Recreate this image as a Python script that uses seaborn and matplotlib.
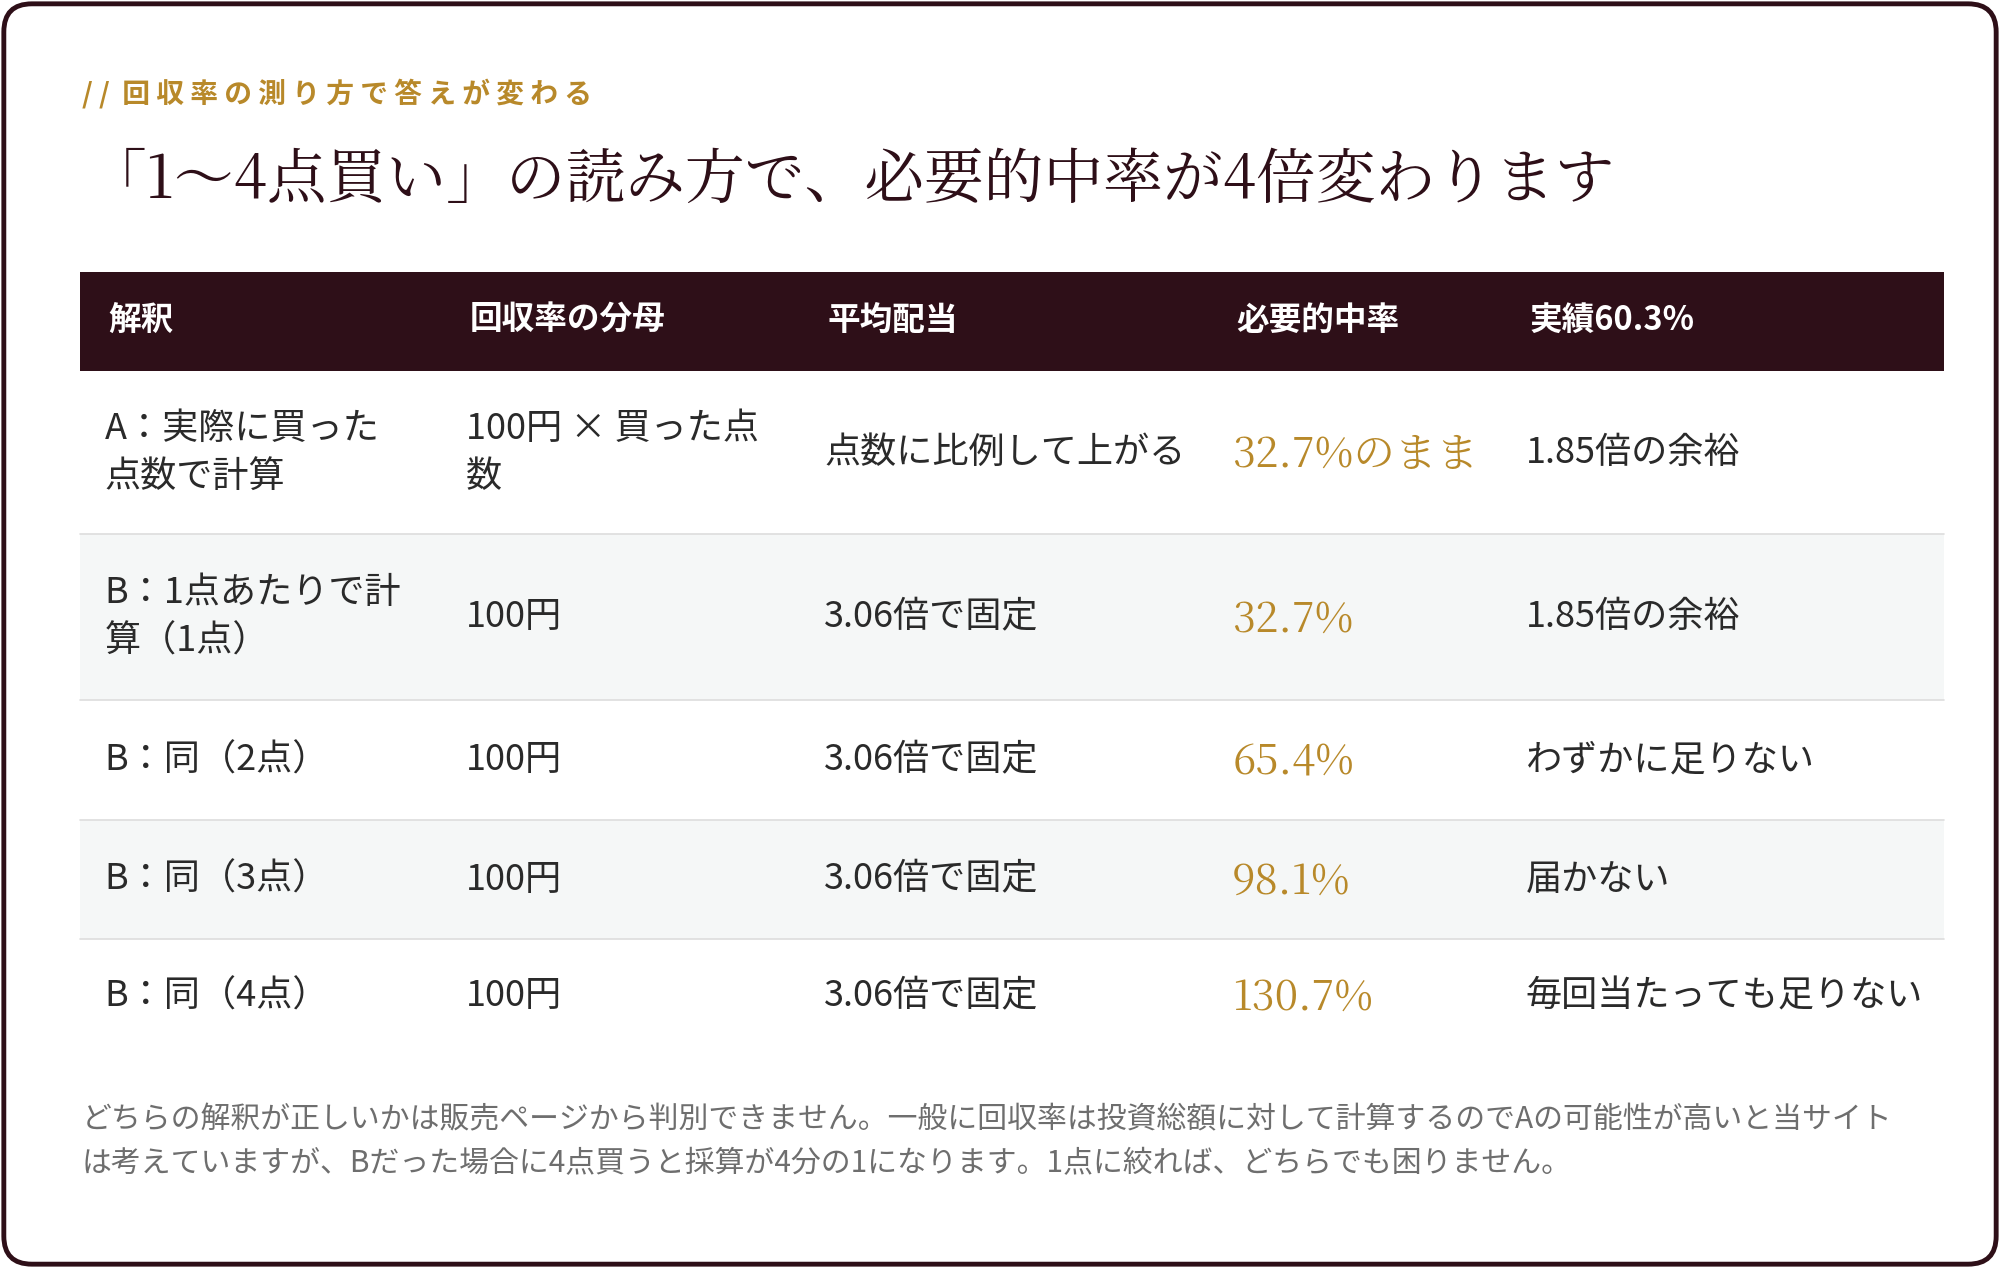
import matplotlib
matplotlib.use("Agg")
import matplotlib.pyplot as plt
from matplotlib.patches import FancyBboxPatch, Rectangle
import seaborn as sns

sns.set_style("white")
plt.rcParams['font.family'] = ['Noto Sans CJK JP', 'DejaVu Sans']

DARK = "#2E0F18"
GOLD = "#B8892A"
TEXT = "#2A2A2A"
GREY = "#6E6E6E"

kicker = "/ /  回 収 率 の 測 り 方 で 答 え が 変 わ る"
title = "「1〜4点買い」の読み方で、必要的中率が4倍変わります"
headers = ["解釈", "回収率の分母", "平均配当", "必要的中率", "実績60.3%"]
col_interp = ["A：実際に買った\n点数で計算", "B：1点あたりで計\n算（1点）", "B：同（2点）", "B：同（3点）", "B：同（4点）"]
col_denom = ["100円 × 買った点\n数", "100円", "100円", "100円", "100円"]
col_payout = ["点数に比例して上がる", "3.06倍で固定", "3.06倍で固定", "3.06倍で固定", "3.06倍で固定"]
col_required = ["32.7%のまま", "32.7%", "65.4%", "98.1%", "130.7%"]
col_actual = ["1.85倍の余裕", "1.85倍の余裕", "わずかに足りない", "届かない", "毎回当たっても足りない"]
footnote = ("どちらの解釈が正しいかは販売ページから判別できません。一般に回収率は投資総額に対して計算するのでAの可能性が高いと当サイト\n"
            "は考えていますが、Bだった場合に4点買うと採算が4分の1になります。1点に絞れば、どちらでも困りません。")

col_x = [82, 365, 646, 966, 1196]
row_edges = [291, 419, 549, 643, 736, 826]

fig = plt.figure(figsize=(20, 12.68), dpi=100)
ax = fig.add_axes([0, 0, 1, 1])
ax.set_xlim(0, 1568)
ax.set_ylim(994, 0)
ax.axis("off")

ax.add_patch(FancyBboxPatch((3, 3), 1562, 988, boxstyle="round,pad=0,rounding_size=22",
                            fc="white", ec=DARK, lw=3.5))

ax.text(64, 73, kicker, color=GOLD, fontsize=20, fontweight="bold", va="center")
ax.text(68, 142, title, color=DARK, fontsize=43, va="center",
        family=['Noto Serif CJK JP', 'Noto Sans CJK JP', 'DejaVu Sans'])

ax.add_patch(Rectangle((63, 213), 1461, 78, fc=DARK, ec="none"))
for x, h in zip(col_x, headers):
    ax.text(x + 3, 251, h, color="white", fontsize=23.5, fontweight="bold", va="center")

for i in range(len(col_interp)):
    top, bot = row_edges[i], row_edges[i + 1]
    if i % 2 == 1:
        ax.add_patch(Rectangle((63, top), 1461, bot - top, fc="#F5F7F7", ec="none"))
    if i > 0:
        ax.plot([63, 1524], [top, top], color="#DDDDDD", lw=1.2)
    yc = (top + bot) / 2
    vals = [col_interp[i], col_denom[i], col_payout[i], col_required[i], col_actual[i]]
    for j, (x, v) in enumerate(zip(col_x, vals)):
        if j == 3:
            ax.text(x, yc + 2, v, color=GOLD, fontsize=30, va="center",
                    family=['Noto Serif CJK JP', 'Liberation Serif', 'Noto Sans CJK JP'])
        else:
            ax.text(x, yc, v, color=TEXT, fontsize=26, va="center", linespacing=1.45)

ax.text(64, 895, footnote, color=GREY, fontsize=21.5, va="center", linespacing=1.55)

fig.savefig("out.png", dpi=100)
